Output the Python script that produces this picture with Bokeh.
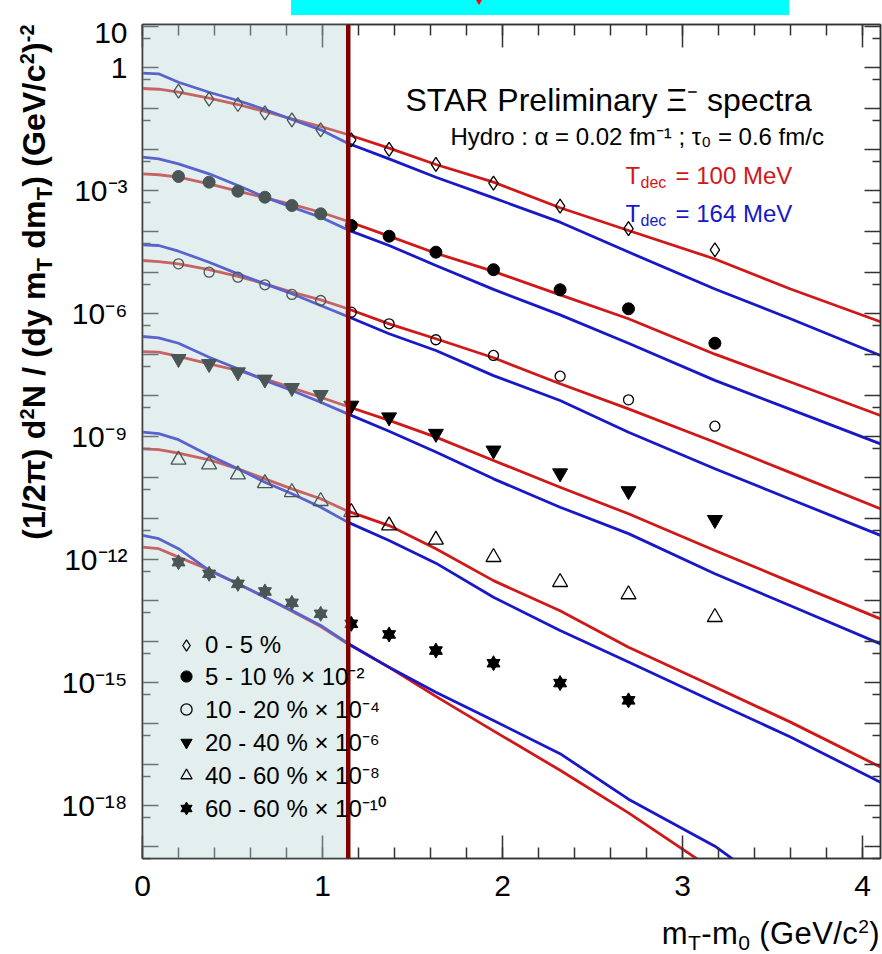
import math
from bokeh.plotting import figure
from bokeh.models import (Range1d, LogAxis, LinearAxis, FixedTicker,
                          BoxAnnotation, Span, Label, Legend, LegendItem, Div)
from bokeh.layouts import column
from bokeh.embed import file_html
from bokeh.resources import INLINE

FONT = "Liberation Sans"
RED = "#d01818"
BLUE = "#1818c8"
AXIS = "#333333"

# ---------------- data ----------------
mt_points = [0.20, 0.37, 0.53, 0.68, 0.83, 0.99, 1.16, 1.37, 1.63, 1.95, 2.32, 2.70, 3.18]

y_0_5 = [0.26, 0.166, 0.123, 0.077, 0.052, 0.0297, 0.0169, 0.00984, 0.00424,
         1.48e-3, 4.07e-4, 1.15e-4, 3.52e-5]
y_5_10 = [2.16e-3, 1.57e-3, 9.45e-4, 6.75e-4, 4.23e-4, 2.66e-4, 1.38e-4, 7.55e-5,
          3.08e-5, 1.15e-5, 3.72e-6, 1.28e-6, 1.85e-7]
y_10_20 = [1.60e-5, 1.0e-5, 7.55e-6, 4.93e-6, 2.86e-6, 2.04e-6, 1.06e-6, 5.51e-7,
           2.25e-7, 9.3e-8, 2.9e-8, 7.7e-9, 1.75e-9]
y_20_40 = [7.7e-8, 5.8e-8, 3.64e-8, 2.42e-8, 1.51e-8, 1.02e-8, 5.6e-9, 2.9e-9,
           1.15e-9, 4.5e-10, 1.25e-10, 4.6e-11, 9.1e-12]
y_40_60 = [2.66e-10, 2.04e-10, 1.16e-10, 7.1e-11, 4.3e-11, 2.6e-11, 1.4e-11, 6.6e-12,
           2.97e-12, 1.12e-12, 2.75e-13, 1.38e-13, 3.85e-14]
y_60_80 = [8.45e-13, 4.4e-13, 2.5e-13, 1.63e-13, 8.6e-14, 4.65e-14, 2.65e-14, 1.46e-14,
           5.9e-15, 2.9e-15, 9.5e-16, 3.6e-16]

mt_curve = [0.0, 0.09, 0.20, 0.37, 0.53, 0.68, 0.83, 0.99, 1.14, 1.37, 1.63, 1.95,
            2.32, 2.70, 3.18, 3.60, 4.10]
red_0_5 = [0.302, 0.29, 0.245, 0.175, 0.123, 0.083, 0.055, 0.0358, 0.0228, 0.0106,
           0.00424, 1.57e-3, 3.72e-4, 1.04e-4, 2.1e-5, 3.9e-6, 6.2e-7]
blue_0_5 = [0.714, 0.69, 0.43, 0.245, 0.154, 0.093, 0.053, 0.0297, 0.014, 5.8e-3,
            2.07e-3, 6.5e-4, 1.66e-4, 3.1e-5, 3.9e-6, 7.3e-7, 9.3e-8]
red_5_10 = [2.51e-3, 2.38e-3, 2.07e-3, 1.43e-3, 9.45e-4, 6.5e-4, 4.5e-4, 2.9e-4,
            1.75e-4, 7.55e-5, 2.9e-5, 1.05e-5, 2.8e-6, 7.3e-7, 1.0e-7, 2.1e-8, 3.2e-9]
blue_5_10 = [6.4e-3, 5.8e-3, 4.4e-3, 2.51e-3, 1.30e-3, 6.75e-4, 3.85e-4, 2.19e-4,
             1.08e-4, 4.48e-5, 1.46e-5, 3.8e-6, 9.1e-7, 1.84e-7, 2.3e-8, 4.5e-9, 6.5e-10]
red_10_20 = [1.93e-5, 1.82e-5, 1.6e-5, 1.15e-5, 7.9e-6, 5.2e-6, 3.25e-6, 2.12e-6,
             1.28e-6, 5.5e-7, 2.38e-7, 8.2e-8, 1.9e-8, 4.65e-9, 7.1e-10, 1.29e-10, 1.7e-11]
blue_10_20 = [4.65e-5, 4.48e-5, 3.25e-5, 1.75e-5, 9.1e-6, 5.2e-6, 2.97e-6, 1.54e-6,
              8.3e-7, 3.15e-7, 1.23e-7, 3.0e-8, 7.4e-9, 1.25e-9, 1.6e-10, 2.9e-11, 3.8e-12]
red_20_40 = [1.16e-7, 1.12e-7, 8.8e-8, 5.8e-8, 4.0e-8, 2.51e-8, 1.51e-8, 8.9e-9,
             5.3e-9, 2.42e-9, 9.5e-10, 2.55e-10, 5.7e-11, 1.28e-11, 1.63e-12, 2.8e-13, 3.5e-14]
blue_20_40 = [2.7e-7, 2.51e-7, 1.85e-7, 8.45e-8, 4.4e-8, 2.28e-8, 1.3e-8, 6.75e-9,
              3.5e-9, 1.32e-9, 4.1e-10, 9.1e-11, 1.85e-11, 4.2e-12, 4.4e-13, 7.3e-14, 8.6e-15]
red_40_60 = [4.9e-10, 4.7e-10, 3.85e-10, 2.66e-10, 1.6e-10, 9.1e-11, 5.2e-11, 2.97e-11,
             1.48e-11, 6.6e-12, 1.8e-12, 3.0e-13, 5.5e-14, 7.1e-15, 7.6e-16, 1.06e-16, 8.5e-18]
blue_40_60 = [1.25e-9, 1.15e-9, 8.2e-10, 3.4e-10, 1.6e-10, 7.55e-11, 3.94e-11, 1.85e-11,
              8.0e-12, 2.86e-12, 8.0e-13, 1.18e-13, 1.82e-14, 3.1e-15, 3.25e-16, 4.6e-17, 3.6e-18]
mt_curve_60_80_red = [0.0, 0.09, 0.20, 0.37, 0.53, 0.68, 0.83, 0.99, 1.14, 1.37, 1.63,
                      1.95, 2.32, 2.70, 3.18]
red_60_80 = [1.96e-12, 1.8e-12, 1.12e-12, 5.5e-13, 2.51e-13, 1.2e-13, 5.4e-14, 2.27e-14,
             8.6e-15, 2.3e-15, 4.5e-16, 6.5e-17, 7.1e-18, 6.5e-19, 2.5e-20]
mt_curve_60_80_blue = [0.0, 0.09, 0.20, 0.37, 0.53, 0.68, 0.83, 0.99, 1.14, 1.37, 1.63,
                       1.95, 2.32, 2.70, 3.18, 3.40]
blue_60_80 = [3.8e-12, 3.15e-12, 1.8e-12, 5.3e-13, 2.51e-13, 1.18e-13, 5.6e-14, 2.42e-14,
              8.9e-15, 2.3e-15, 5.7e-16, 1.16e-16, 1.8e-17, 1.4e-18, 1.0e-19, 2.0e-20]

legend_labels = ["0 - 5 %", "5 - 10 % × 10⁻²", "10 - 20 % × 10⁻⁴", "20 - 40 % × 10⁻⁶",
                 "40 - 60 % × 10⁻⁸", "60 - 60 % × 10⁻¹⁰"]
x_tick_values = [0, 1, 2, 3, 4]
y_tick_exponents = [1, 0, -3, -6, -9, -12, -15, -18]
y_tick_labels = ["10", "1", "10⁻³", "10⁻⁶", "10⁻⁹", "10⁻¹²", "10⁻¹⁵", "10⁻¹⁸"]
shade_edge = 1.14
cut_line = 1.143

# ---------------- figure ----------------
p = figure(title=None, frame_width=738, frame_height=834, y_axis_type="log",
           x_range=Range1d(0, 4.1), y_range=Range1d(5e-20, 11),
           output_backend="svg", toolbar_location=None,
           min_border_left=142, min_border_right=2, min_border_top=9, min_border_bottom=96,
           background_fill_color="white", border_fill_color="white")
p.border_fill_alpha = 0
p.xgrid.visible = False
p.ygrid.visible = False
p.outline_line_color = AXIS
p.outline_line_width = 1.5

decades = [10.0 ** k for k in range(-19, 2)]
halves = [5.0 * 10.0 ** k for k in range(-20, 1)]
y_ticker = FixedTicker(ticks=decades, minor_ticks=halves)
x_ticker = FixedTicker(ticks=x_tick_values, minor_ticks=[i / 5 for i in range(0, 21)])


def style(ax, major_in, minor_in):
    ax.axis_line_color = AXIS
    ax.axis_line_width = 1.5
    ax.major_tick_line_color = AXIS
    ax.minor_tick_line_color = AXIS
    ax.major_tick_line_width = 1.5
    ax.minor_tick_line_width = 1.5
    ax.major_tick_in = major_in
    ax.major_tick_out = 0
    ax.minor_tick_in = minor_in
    ax.minor_tick_out = 0
    ax.axis_label = None
    ax.major_label_text_font = FONT
    ax.major_label_text_font_size = "30px"
    ax.major_label_text_color = "black"


xa = p.xaxis[0]
xa.ticker = x_ticker
style(xa, 23, 11)
xa.major_label_standoff = 17

ya = p.yaxis[0]
ya.ticker = y_ticker
style(ya, 16, 8)
ya.major_label_standoff = 15
overrides = {}
for k in range(-19, 2):
    overrides[10.0 ** k] = (y_tick_labels[y_tick_exponents.index(k)]
                            if k in y_tick_exponents else "")
ya.major_label_overrides = overrides

# mirrored axes (ticks only)
ra = LogAxis(ticker=y_ticker)
style(ra, 16, 8)
ra.major_label_standoff = 0
ra.major_label_overrides = {10.0 ** k: "" for k in range(-19, 2)}
p.add_layout(ra, "right")
ta = LinearAxis(ticker=x_ticker)
style(ta, 23, 11)
ta.major_label_standoff = 0
ta.major_label_overrides = {v: "" for v in x_tick_values}
p.add_layout(ta, "above")

# ---------------- curves ----------------
curve_sets = [
    (mt_curve, red_0_5, mt_curve, blue_0_5),
    (mt_curve, red_5_10, mt_curve, blue_5_10),
    (mt_curve, red_10_20, mt_curve, blue_10_20),
    (mt_curve, red_20_40, mt_curve, blue_20_40),
    (mt_curve, red_40_60, mt_curve, blue_40_60),
    (mt_curve_60_80_red, red_60_80, mt_curve_60_80_blue, blue_60_80),
]
for xr, yr, xb, yb in curve_sets:
    p.line(xr, yr, line_color=RED, line_width=2.8, line_join="round")
    p.line(xb, yb, line_color=BLUE, line_width=2.8, line_join="round")

# ---------------- data points ----------------
r1 = p.scatter(mt_points, y_0_5, marker="diamond", size=14, fill_color=None,
               line_color="black", line_width=1.3)
r2 = p.scatter(mt_points, y_5_10, marker="circle", size=12, fill_color="black",
               line_color="black")
r3 = p.scatter(mt_points, y_10_20, marker="circle", size=10, fill_color=None,
               line_color="black", line_width=1.3)
r4 = p.scatter(mt_points, y_20_40, marker="inverted_triangle", size=15, fill_color="black",
               line_color="black")
r5 = p.scatter(mt_points, y_40_60, marker="triangle", size=15, fill_color=None,
               line_color="black", line_width=1.3)
n6 = len(y_60_80)
r6a = p.scatter(mt_points[:n6], y_60_80, marker="triangle", size=13, fill_color="black",
                line_color="black")
r6b = p.scatter(mt_points[:n6], y_60_80, marker="inverted_triangle", size=13,
                fill_color="black", line_color="black")

legend = Legend(
    items=[LegendItem(label=legend_labels[0], renderers=[r1]),
           LegendItem(label=legend_labels[1], renderers=[r2]),
           LegendItem(label=legend_labels[2], renderers=[r3]),
           LegendItem(label=legend_labels[3], renderers=[r4]),
           LegendItem(label=legend_labels[4], renderers=[r5]),
           LegendItem(label=legend_labels[5], renderers=[r6a, r6b])],
    location=(30, 34), orientation="vertical",
    glyph_width=28, glyph_height=28, label_height=28, spacing=0,
    padding=0, margin=0, label_standoff=5,
    label_text_font=FONT, label_text_font_size="24px", label_text_color="black",
    border_line_alpha=0, background_fill_alpha=0)
p.add_layout(legend)

# shaded overlay and vertical cut line
box = BoxAnnotation(left=0, right=shade_edge, fill_color="#b9d4d4", fill_alpha=0.4,
                    line_color=None)
p.add_layout(box)
p.add_layout(Span(location=cut_line, dimension="height", line_color="#800000",
                  line_width=4.5))


# ---------------- texts inside the frame ----------------
def lab(x, y, text, size, color="black"):
    p.add_layout(Label(x=x, y=y, x_units="screen", y_units="screen", text=text,
                       text_font=FONT, text_font_size=f"{size}px", text_color=color,
                       text_align="left", text_baseline="alphabetic"))


lab(263, 759, "STAR Preliminary Ξ⁻ spectra", 32)
lab(308, 722, "Hydro : α = 0.02 fm⁻¹ ; τ₀ = 0.6 fm/c", 24)
lab(483, 683, "T", 24, RED)
lab(498, 676, "dec", 16, RED)
lab(533, 683, "= 100 MeV", 24, RED)
lab(483, 645, "T", 24, BLUE)
lab(498, 638, "dec", 16, BLUE)
lab(533, 645, "= 164 MeV", 24, BLUE)

# ---------------- axis titles and top bar (HTML, with real sub/superscripts) ----------------
SUP = '<span style="font-size:0.62em;position:relative;top:-0.55em">{}</span>'
SUB = '<span style="font-size:0.68em;position:relative;top:0.3em">{}</span>'
y_title = ("(1/2π) d" + SUP.format("2") + "N / (dy m" + SUB.format("T") + " dm"
           + SUB.format("T") + ") (GeV/c" + SUP.format("2") + ")" + SUP.format("-2"))
x_title = ("m" + SUB.format("T") + "-m" + SUB.format("0") + " (GeV/c" + SUP.format("2") + ")")

html = (
    '<div style="position:relative;width:498px;height:15px;background:#00ffff;overflow:visible;">'
    '<div style="position:absolute;left:185px;top:0px;width:0;height:0;'
    'border-left:3px solid transparent;border-right:3px solid transparent;'
    'border-top:5px solid #ff0000;"></div>'
    '<div style="position:absolute;left:-255px;top:282px;transform:translate(-50%,-50%) '
    'rotate(-90deg);white-space:nowrap;font-family:\'Liberation Sans\';font-weight:bold;'
    'font-size:32px;line-height:32px;color:#000;letter-spacing:0.2px;">' + y_title + '</div>'
    '<div style="position:absolute;left:589px;top:918px;transform:translateX(-100%);'
    'white-space:nowrap;font-family:\'Liberation Sans\';font-size:31px;line-height:31px;'
    'color:#000;letter-spacing:0.4px;">' + x_title + '</div>'
    '</div>')

bar = Div(text=html, width=498, height=15, margin=(0, 0, 0, 291),
          styles={"z-index": "10", "overflow": "visible"})

layout = column(bar, p, spacing=0)
open("out.html", "w").write(file_html(layout, INLINE))
